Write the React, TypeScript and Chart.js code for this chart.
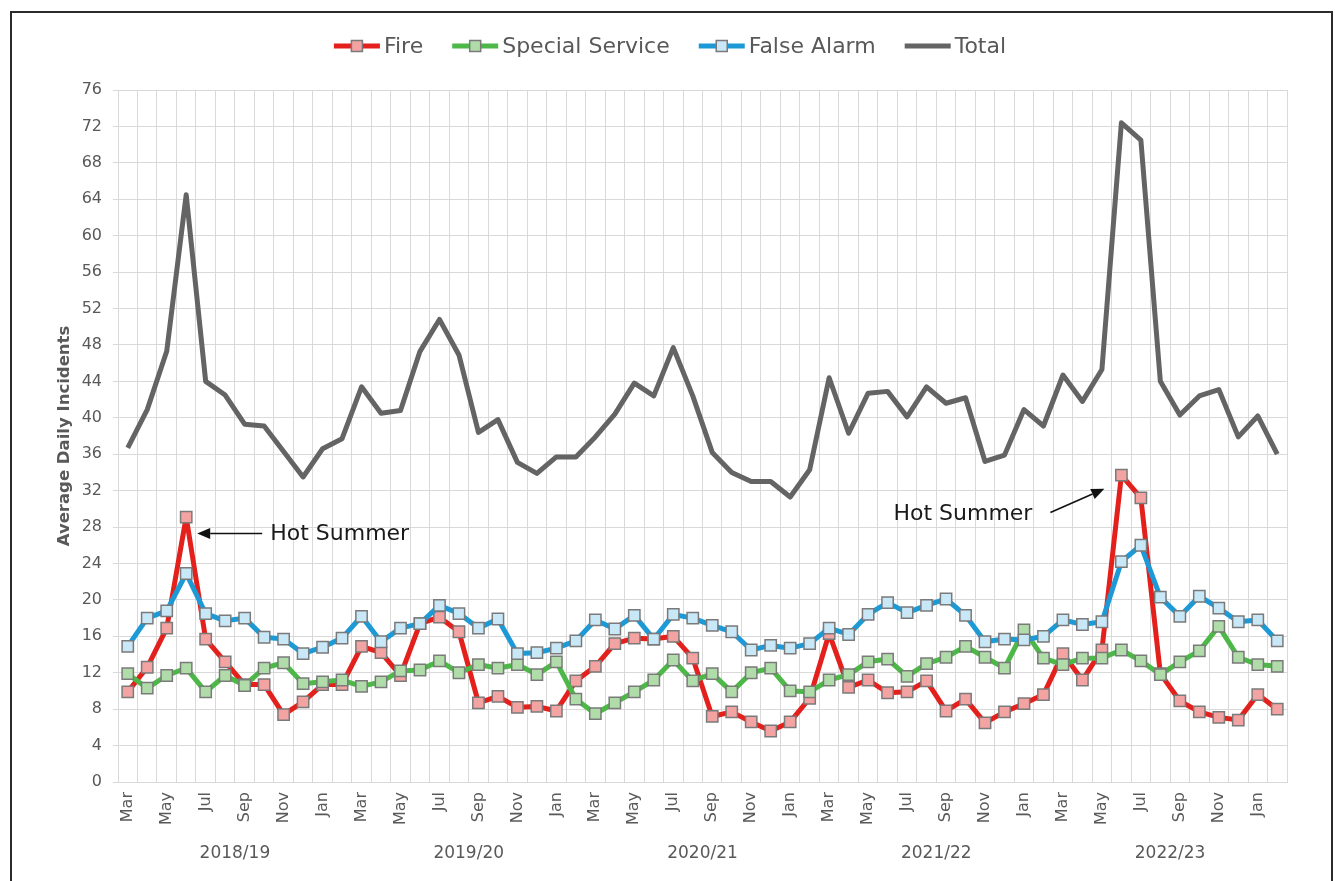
import { useEffect, useRef } from 'react';
import { Chart, registerables } from 'chart.js';

Chart.register(...registerables);

const FONT = '"DejaVu Sans", Verdana, sans-serif';
const TEXT_COLOR = '#595959';
const GRID_COLOR = '#d9d9d9';

const MONTH_NAMES = ['Mar', 'Apr', 'May', 'Jun', 'Jul', 'Aug', 'Sep', 'Oct', 'Nov', 'Dec', 'Jan', 'Feb'];
const YEARS = ['2018/19', '2019/20', '2020/21', '2021/22', '2022/23'];
const monthLabels = YEARS.flatMap(() => MONTH_NAMES);

const fireData = [
  9.9, 12.6, 16.9, 29.1, 15.7, 13.2, 10.7, 10.7, 7.4, 8.8,
  10.7, 10.7, 14.9, 14.2, 11.7, 17.4, 18.1, 16.5, 8.7, 9.4,
  8.2, 8.3, 7.8, 11.1, 12.7, 15.2, 15.8, 15.7, 16.0, 13.6,
  7.2, 7.7, 6.6, 5.6, 6.6, 9.2, 16.3, 10.4, 11.2, 9.8,
  9.9, 11.1, 7.8, 9.1, 6.5, 7.7, 8.6, 9.6, 14.1, 11.2,
  14.5, 33.7, 31.2, 11.9, 8.9, 7.7, 7.1, 6.8, 9.6, 8.0,
];

const specialData = [
  11.9, 10.3, 11.7, 12.5, 9.9, 11.7, 10.6, 12.5, 13.1, 10.8,
  11.0, 11.2, 10.5, 11.0, 12.2, 12.3, 13.3, 12.0, 12.9, 12.5,
  12.9, 11.8, 13.2, 9.1, 7.5, 8.7, 9.9, 11.2, 13.4, 11.1,
  11.9, 9.9, 12.0, 12.5, 10.0, 9.9, 11.2, 11.8, 13.2, 13.5,
  11.6, 13.0, 13.7, 14.9, 13.7, 12.5, 16.7, 13.6, 12.9, 13.6,
  13.6, 14.5, 13.3, 11.8, 13.2, 14.4, 17.1, 13.7, 12.9, 12.7,
];

const falseAlarmData = [
  14.9, 18.0, 18.8, 22.9, 18.5, 17.7, 18.0, 15.9, 15.7, 14.1,
  14.8, 15.8, 18.2, 15.4, 16.9, 17.4, 19.4, 18.5, 16.9, 17.9,
  14.1, 14.2, 14.7, 15.5, 17.8, 16.8, 18.3, 15.7, 18.4, 18.0,
  17.2, 16.5, 14.5, 15.0, 14.7, 15.2, 16.9, 16.2, 18.4, 19.7,
  18.6, 19.4, 20.1, 18.3, 15.4, 15.7, 15.6, 16.0, 17.8, 17.3,
  17.6, 24.2, 26.0, 20.3, 18.2, 20.4, 19.1, 17.6, 17.8, 15.5,
];

const totalData = [
  36.7, 40.9, 47.3, 64.5, 44.0, 42.5, 39.3, 39.1, 36.3, 33.5,
  36.6, 37.7, 43.4, 40.5, 40.8, 47.3, 50.8, 46.9, 38.4, 39.8,
  35.1, 33.9, 35.7, 35.7, 37.9, 40.4, 43.8, 42.4, 47.7, 42.4,
  36.2, 34.0, 33.0, 33.0, 31.3, 34.3, 44.4, 38.3, 42.7, 42.9,
  40.1, 43.4, 41.6, 42.2, 35.2, 35.9, 40.9, 39.1, 44.7, 41.8,
  45.3, 72.4, 70.5, 44.0, 40.3, 42.4, 43.1, 37.9, 40.2, 36.0,
];

const Y_TICK_STEP = 4;
const Y_MAX = 76;

const ANNOTATION_TEXT = 'Hot Summer';

function drawArrow(ctx: CanvasRenderingContext2D, x1: number, y1: number, x2: number, y2: number) {
  const ang = Math.atan2(y2 - y1, x2 - x1);
  const hl = 13;
  const hw = 5.5;
  const bx = x2 - hl * Math.cos(ang);
  const by = y2 - hl * Math.sin(ang);
  ctx.beginPath();
  ctx.moveTo(x1, y1);
  ctx.lineTo(bx, by);
  ctx.stroke();
  ctx.beginPath();
  ctx.moveTo(x2, y2);
  ctx.lineTo(bx + hw * Math.sin(ang), by - hw * Math.cos(ang));
  ctx.lineTo(bx - hw * Math.sin(ang), by + hw * Math.cos(ang));
  ctx.closePath();
  ctx.fill();
}

const annotationPlugin = {
  id: 'hotSummer',
  afterDatasetsDraw(chart: any) {
    const { ctx } = chart;
    const x = chart.scales.x;
    const y = chart.scales.y;
    ctx.save();
    ctx.strokeStyle = '#111';
    ctx.fillStyle = '#111';
    ctx.lineWidth = 1.6;
    const p1 = x.getPixelForValue(3);
    drawArrow(ctx, p1 + 76, y.getPixelForValue(27.3), p1 + 11, y.getPixelForValue(27.3));
    const p2 = x.getPixelForValue(51);
    drawArrow(ctx, p2 - 71, y.getPixelForValue(29.6), p2 - 17, y.getPixelForValue(32.2));
    ctx.font = `22px ${FONT}`;
    ctx.fillStyle = '#1a1a1a';
    ctx.textBaseline = 'middle';
    ctx.textAlign = 'left';
    ctx.fillText(ANNOTATION_TEXT, p1 + 84, y.getPixelForValue(27.2));
    ctx.textAlign = 'right';
    ctx.fillText(ANNOTATION_TEXT, p2 - 89, y.getPixelForValue(29.4));
    ctx.restore();
  },
};

const legendPlugin = {
  id: 'lineMarkerLegend',
  afterDraw(chart: any) {
    const { ctx } = chart;
    const items = chart.data.datasets.map((ds: any) => ({
      label: ds.label,
      color: ds.borderColor,
      fill: ds.pointBackgroundColor,
      marker: ds.pointRadius > 0,
    }));
    ctx.save();
    ctx.font = `22px ${FONT}`;
    const lineW = 46;
    const gapText = 4;
    const gapItem = 29;
    const widths = items.map((it: any) => lineW + gapText + ctx.measureText(it.label).width);
    const total = widths.reduce((a: number, b: number) => a + b, 0) + gapItem * (items.length - 1);
    let cx = 670 - total / 2;
    const cy = 46;
    items.forEach((it: any, i: number) => {
      ctx.strokeStyle = it.color;
      ctx.lineWidth = 5;
      ctx.lineCap = 'butt';
      ctx.beginPath();
      ctx.moveTo(cx, cy);
      ctx.lineTo(cx + lineW, cy);
      ctx.stroke();
      if (it.marker) {
        const s = 11;
        ctx.fillStyle = it.fill;
        ctx.fillRect(cx + lineW / 2 - s / 2, cy - s / 2, s, s);
        ctx.strokeStyle = '#7a7a7a';
        ctx.lineWidth = 1.5;
        ctx.strokeRect(cx + lineW / 2 - s / 2, cy - s / 2, s, s);
      }
      ctx.fillStyle = TEXT_COLOR;
      ctx.textBaseline = 'middle';
      ctx.textAlign = 'left';
      ctx.fillText(it.label, cx + lineW + gapText, cy + 1);
      cx += widths[i] + gapItem;
    });
    ctx.restore();
  },
};

function markerSeries(label: string, data: number[], line: string, fill: string, order: number) {
  return {
    label,
    data,
    borderColor: line,
    backgroundColor: line,
    borderWidth: 5,
    borderJoinStyle: 'round',
    pointStyle: 'rect',
    pointRadius: 8,
    pointHoverRadius: 8,
    pointBackgroundColor: fill,
    pointBorderColor: '#7a7a7a',
    pointBorderWidth: 1.5,
    tension: 0,
    order,
  };
}

export default function App() {
  const canvasRef = useRef<HTMLCanvasElement | null>(null);

  useEffect(() => {
    if (!canvasRef.current) return;
    const chart = new Chart(canvasRef.current, {
      type: 'line',
      data: {
        labels: monthLabels,
        datasets: [
          markerSeries('Fire', fireData, '#e3201b', '#f4a3a3', 4) as any,
          markerSeries('Special Service', specialData, '#4db848', '#b0dcaa', 3) as any,
          markerSeries('False Alarm', falseAlarmData, '#1d9ad6', '#c8e7f7', 2) as any,
          {
            label: 'Total',
            data: totalData,
            borderColor: '#646464',
            backgroundColor: '#646464',
            borderWidth: 5,
            borderJoinStyle: 'round',
            pointRadius: 0,
            pointHoverRadius: 0,
            tension: 0,
            order: 1,
          },
        ],
      },
      options: {
        responsive: false,
        animation: false,
        events: [],
        layout: { padding: { left: 45, right: 48, top: 90, bottom: 9 } },
        plugins: {
          legend: { display: false },
          tooltip: { enabled: false },
        },
        scales: {
          x: {
            type: 'category',
            offset: true,
            weight: 0,
            grid: { offset: true, color: GRID_COLOR, lineWidth: 1, drawTicks: false },
            border: { color: GRID_COLOR },
            ticks: {
              autoSkip: false,
              maxRotation: 90,
              minRotation: 90,
              padding: 10,
              color: TEXT_COLOR,
              font: { family: FONT, size: 16 },
              callback: (_v: any, i: number) => (i % 2 === 0 ? monthLabels[i] : ''),
            },
            afterFit: (s: any) => {
              s.height = 50;
            },
          },
          x2: {
            type: 'category',
            labels: YEARS,
            offset: true,
            position: 'bottom',
            weight: 1,
            grid: { display: false, drawTicks: false },
            border: { display: false },
            ticks: { color: TEXT_COLOR, font: { family: FONT, size: 17 }, padding: 11, autoSkip: false, maxRotation: 0 },
            afterFit: (s: any) => {
              s.height = 40;
            },
          },
          y: {
            min: 0,
            max: Y_MAX,
            ticks: {
              stepSize: Y_TICK_STEP,
              maxTicksLimit: 40,
              padding: 11,
              color: TEXT_COLOR,
              font: { family: FONT, size: 16 },
            },
            grid: { color: GRID_COLOR, tickLength: 5 },
            border: { color: GRID_COLOR },
            title: {
              display: true,
              text: 'Average Daily Incidents',
              color: TEXT_COLOR,
              font: { family: FONT, size: 16.5, weight: 'bold' },
              padding: { top: 10, bottom: 0 },
            },
            afterFit: (s: any) => {
              s.width = 73;
            },
          },
        },
      } as any,
      plugins: [annotationPlugin, legendPlugin],
    });
    return () => chart.destroy();
  }, []);

  return (
    <div style={{ position: 'absolute', left: 0, top: 0, width: 1335, height: 881, overflow: 'hidden', background: '#fff' }}>
      <canvas ref={canvasRef} width={1335} height={881} style={{ position: 'absolute', left: 0, top: 0, width: 1335, height: 881 }} />
      <div
        style={{
          position: 'absolute',
          left: 10,
          top: 11,
          width: 1323,
          height: 880,
          boxSizing: 'border-box',
          border: '2px solid #2b2b2b',
          borderBottom: 'none',
          pointerEvents: 'none',
        }}
      />
    </div>
  );
}
